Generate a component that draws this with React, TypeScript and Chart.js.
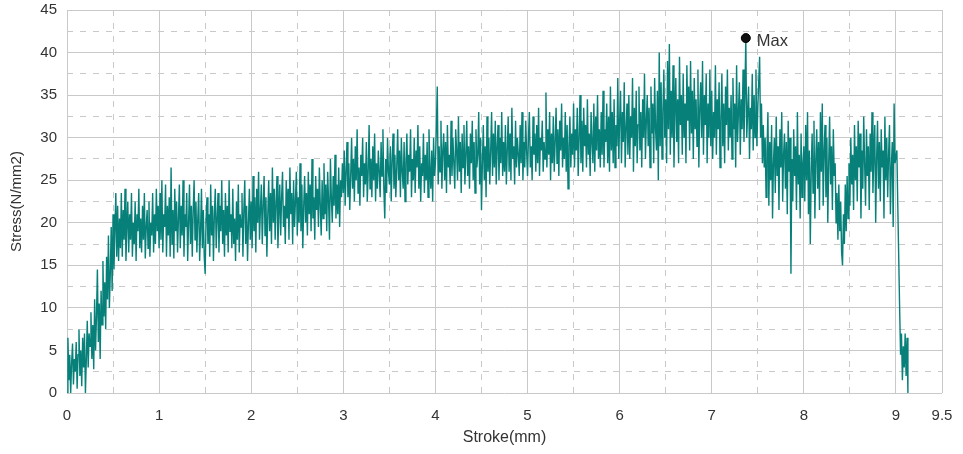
import React, { useEffect, useRef } from "react";
import { Chart, registerables } from "chart.js";

Chart.register(...registerables);

// Sampling interval of the stroke axis (mm per sample)
const SAMPLE_INTERVAL_MM = 0.01;

// Stress values (N/mm2), one per sample, grouped per millimetre of stroke
const stress_0 = [
  0, 6.5, 1.5, 4.5, 0, 3.5, 5.8, 1, 4, 2.5,
  6, 0.5, 4.5, 7.5, 2, 5, 0.8, 6.5, 3, 7,
  0, 4, 8.5, 3, 7, 5.5, 9.5, 4, 8, 2.8,
  11, 5, 9, 14.5, 6, 10.5, 4, 12, 8, 15.5,
  9, 13, 7.5, 16, 11, 18.5, 10, 14, 19.5, 12,
  21, 14.5, 19, 23.5, 16, 22, 15.5, 20.5, 17, 23.5,
  16, 21.5, 18, 24, 15.5, 19.5, 22.5, 16.5, 21, 18,
  23.5, 16, 20, 17.5, 22.5, 15.5, 21, 19, 24, 17,
  20.5, 16.5, 22, 18, 23.5, 15.8, 19.5, 21.5, 17, 22.5,
  16, 20, 18.5, 23.5, 16.5, 21, 17.5, 24, 19, 22,
];
const stress_1 = [
  17, 23.5, 18, 25, 16.5, 21, 19.5, 24.5, 16, 22,
  18.5, 23, 16, 26.5, 17.5, 21.5, 15.8, 24, 19, 22.5,
  16.5, 20.5, 24.5, 17, 22, 18.5, 25, 16, 21, 19.5,
  23.5, 15.5, 20, 24.5, 17.5, 22, 16, 21.5, 25, 18,
  22.5, 16.5, 20.5, 23.5, 15.5, 19, 24, 17, 21.5, 16,
  14, 20.5, 23, 17.5, 21, 16, 24.5, 18.5, 22, 15.5,
  21, 24, 17, 20.5, 23.5, 16.5, 22, 19, 25, 17.5,
  21.5, 16, 23.5, 18.5, 22, 16.5, 25, 19, 21, 17,
  24, 17.5, 20.5, 15.5, 22.5, 18, 24.5, 16.5, 21, 19.5,
  23.5, 16, 21.5, 25, 17.5, 22, 15.5, 20, 24, 18,
];
const stress_2 = [
  22.5, 17, 25.5, 19, 23, 16.5, 24, 20, 26, 18,
  21.5, 24.5, 17.5, 22, 25.5, 18.5, 23, 16, 21, 25,
  19, 23.5, 17.5, 26.5, 20, 24, 18, 22.5, 25.5, 17,
  21, 24.5, 18.5, 23, 26, 19.5, 22, 17.5, 25, 20.5,
  24, 18, 26.5, 21, 23.5, 17.5, 25, 19.5, 22.5, 26,
  18.5, 23, 20, 27, 19, 24.5, 17, 22, 25.5, 20,
  23.5, 18.5, 26, 21, 24.5, 19, 27.5, 20.5, 23, 18,
  25.5, 21.5, 24, 19.5, 26.5, 22, 18.5, 25, 20.5, 27,
  21, 24.5, 19, 26, 22.5, 18, 27.5, 23, 20, 25.5,
  22, 28, 20.5, 24.5, 21, 26.5, 19.5, 25, 23, 27,
];
const stress_3 = [
  23.5, 28.5, 22, 26, 29.5, 23, 27, 21.5, 25.5, 30,
  24, 27.5, 22.5, 29, 25, 31, 23.5, 26.5, 22, 28,
  25.5, 30, 23, 27, 24.5, 29.5, 22.5, 26, 31.5, 24,
  27.5, 23, 29, 25, 30.5, 22.5, 27, 24, 28.5, 26,
  23, 29.5, 25.5, 31, 24, 20.5, 27.5, 23.5, 30, 26,
  24.5, 29, 22.5, 27.5, 30.5, 24, 28, 23, 26.5, 31,
  25, 28.5, 23, 30, 26, 24, 29.5, 22.5, 27, 30.5,
  24.5, 28, 26, 31, 23, 27.5, 25, 30, 23.5, 28.5,
  26.5, 31.5, 24, 29, 22.5, 27, 25.5, 30.5, 23.5, 28,
  25, 29.5, 23, 31, 26.5, 24, 28.5, 22.5, 30, 25.5,
];
const stress_4 = [
  27, 31, 36, 24.5, 29, 26, 32, 24, 28.5, 30.5,
  25, 29.5, 23.5, 31.5, 26.5, 28, 24.5, 32, 25.5, 30,
  27, 24, 31, 28.5, 25, 32.5, 26, 29.5, 23.5, 30.5,
  26.5, 31.5, 24.5, 28, 32, 25.5, 29, 24, 30.5, 27,
  32, 25, 29.5, 23.5, 31, 26.5, 28, 33, 24.5, 30,
  21.5, 27, 31.5, 25, 29, 23, 32.5, 26, 30, 24.5,
  28.5, 33, 25.5, 30.5, 26.5, 32, 24.5, 29, 31.5, 25,
  30, 27, 33, 25.5, 29.5, 26, 31.5, 24.5, 28.5, 32.5,
  26, 30.5, 25, 33.5, 27.5, 29, 24.5, 32, 26.5, 30,
  28, 25.5, 31.5, 27, 33, 25, 29.5, 26.5, 32, 28.5,
];
const stress_5 = [
  25.5, 30, 33, 26.5, 29, 25, 32.5, 28, 30.5, 26,
  31.5, 27, 33.5, 25.5, 30, 28.5, 32, 26, 29.5, 27.5,
  35.3, 26.5, 31, 28, 33, 25, 30.5, 27, 32.5, 26,
  29.5, 33.5, 27, 31, 25.5, 32, 28.5, 34, 26.5, 30,
  27.5, 33, 26, 31.5, 24, 29, 32.5, 26.5, 30.5, 28,
  34, 26.5, 31, 28.5, 33.5, 25.5, 30, 35, 27, 32,
  26, 33.5, 29, 31.5, 26.5, 34.5, 28, 30.5, 25.5, 33,
  29.5, 27, 34, 26, 32.5, 28.5, 35, 27.5, 31, 26.5,
  33, 28, 35.5, 26.5, 31, 29.5, 34, 27, 32.5, 26,
  36, 28.5, 33, 27, 34.5, 26.5, 31.5, 29, 37, 27.5,
];
const stress_6 = [
  32, 35.5, 27, 33, 29.5, 36.5, 26.5, 31, 34, 28,
  35, 27.5, 32.5, 30, 37, 26, 33.5, 29, 35.5, 27,
  31.5, 36, 28.5, 33, 26.5, 34.5, 30, 37.5, 27.5, 32,
  35, 29, 33.5, 26.5, 36, 30.5, 34, 27, 37, 31,
  28.5, 35.5, 25, 40, 29, 36.5, 27.5, 33, 38, 30,
  34.5, 27, 39, 31, 41, 28, 35.5, 30, 38.5, 26.5,
  33, 37, 29.5, 34.5, 27, 39.5, 31.5, 35, 28, 37.5,
  30, 34, 27, 38.5, 32, 36, 28.5, 39, 30.5, 35.5,
  27.5, 37, 31, 34.5, 29, 38, 26.5, 33.5, 36.5, 30,
  39, 28, 35, 31.5, 37.5, 27, 34, 30, 38, 29,
];
const stress_7 = [
  35.5, 27.5, 33, 30, 38.5, 28, 34.5, 31, 36.5, 26.5,
  32, 37.5, 29, 34, 27, 36, 31.5, 38, 28.5, 33.5,
  30, 35, 27.5, 37, 31, 34, 26.5, 38.5, 29.5, 33,
  36.5, 28, 34.5, 31, 38, 29.5, 35, 41.7, 30, 33,
  36, 27.5, 33.5, 31, 37.5, 28.5, 35, 30, 38, 29,
  33.5, 36.5, 39.5, 30, 34, 27, 31.5, 26.5, 30, 23,
  28.5, 33, 22, 29.5, 25, 31.5, 20.5, 27, 30, 23.5,
  32.5, 25.5, 29, 21.5, 31, 26.5, 33, 22.5, 28, 30.5,
  24, 29.5, 21, 32, 26, 30, 14, 27.5, 22.5, 31,
  25.5, 29, 21.5, 33, 24.5, 28, 20.5, 30.5, 23, 27,
];
const stress_8 = [
  29, 22.5, 31.5, 25, 33, 21, 28.5, 17.5, 26, 30.5,
  23.5, 32, 20.5, 27.5, 31, 24, 29.5, 21.5, 33, 26,
  34, 22, 28.5, 31.5, 23, 30, 20, 27, 32.5, 24.5,
  29, 21.5, 31, 25.5, 27, 20, 23.5, 18, 24.5, 19,
  22.5, 16.5, 15, 21, 17.5, 24.5, 19, 25.5, 20.5, 27,
  22, 30, 24.5, 28, 21.5, 31.5, 25, 29, 22.5, 32,
  26.5, 30.5, 20.5, 28.5, 24, 32.5, 27, 22, 31, 25.5,
  29, 21.5, 30.5, 26, 33, 23.5, 28, 31.5, 20, 27.5,
  32, 24, 29.5, 22.5, 31, 26.5, 28.5, 20.5, 32.5, 25,
  30, 23, 28, 31.5, 21, 26.5, 29.5, 19.5, 34, 27,
];
const stress_9 = [27, 28.5, 22, 16, 10, 4.5, 7, 1.5, 5.5, 3, 7, 2, 6.5, 0];

const STRESS = [
  ...stress_0, ...stress_1, ...stress_2, ...stress_3, ...stress_4,
  ...stress_5, ...stress_6, ...stress_7, ...stress_8, ...stress_9,
];
const STROKE = STRESS.map((_, i) => Math.round(i * SAMPLE_INTERVAL_MM * 100) / 100);

const MAX_POINT = { stroke: 7.37, stress: 41.7, label: "Max" };

const X_LABELS = [0, 1, 2, 3, 4, 5, 6, 7, 8, 9, 9.5];
const Y_LABELS = [0, 5, 10, 15, 20, 25, 30, 35, 40, 45];

const X_TITLE = "Stroke(mm)";
const Y_TITLE = "Stress(N/mm2)";

const FONT = '"Liberation Sans", Arial, sans-serif';
const GRID = "#c9c9c9";
const TEXT = "#333333";
const LINE = "#068079";

const maxLabelPlugin = {
  id: "maxLabel",
  afterDatasetsDraw(chart: any) {
    const el = chart.getDatasetMeta(0).data[0];
    if (!el) return;
    const ctx = chart.ctx;
    ctx.save();
    ctx.font = `16.5px ${FONT}`;
    ctx.fillStyle = TEXT;
    ctx.textBaseline = "middle";
    ctx.textAlign = "left";
    ctx.fillText(MAX_POINT.label, el.x + 11, el.y + 3);
    ctx.restore();
  },
};

export default function App() {
  const ref = useRef<HTMLCanvasElement>(null);

  useEffect(() => {
    if (!ref.current) return;
    const chart = new Chart(ref.current, {
      type: "line",
      data: {
        datasets: [
          {
            label: MAX_POINT.label,
            data: [{ x: MAX_POINT.stroke, y: MAX_POINT.stress }],
            showLine: false,
            pointRadius: 4.5,
            pointBackgroundColor: "#111111",
            pointBorderColor: "#000000",
            pointBorderWidth: 1,
            order: 0,
          },
          {
            label: "Stress",
            data: STROKE.map((x, i) => ({ x, y: STRESS[i] })),
            borderColor: LINE,
            borderWidth: 1.4,
            pointRadius: 0,
            tension: 0,
            fill: false,
            order: 1,
          },
        ],
      },
      options: {
        responsive: false,
        animation: false,
        devicePixelRatio: 1,
        events: [],
        layout: { padding: { top: 10, right: 21, left: 0, bottom: 0 } },
        plugins: {
          legend: { display: false },
          tooltip: { enabled: false },
        },
        scales: {
          x: {
            type: "linear",
            min: 0,
            max: 9.5,
            afterFit: (s: any) => {
              s.height = 61;
              s.paddingLeft = 0;
              s.paddingRight = 0;
            },
            grid: { color: GRID, lineWidth: 1, drawTicks: false },
            border: {
              display: false,
              dash: (c: any) =>
                c.tick && c.tick.value % 1 !== 0 && c.tick.value !== 9.5 ? [6, 7] : [],
            },
            ticks: {
              stepSize: 0.5,
              autoSkip: false,
              maxRotation: 0,
              padding: 14,
              color: TEXT,
              font: { family: FONT, size: 15 },
              callback: (v: any) => (X_LABELS.includes(Number(v)) ? String(v) : ""),
            },
            title: {
              display: true,
              text: X_TITLE,
              color: TEXT,
              font: { family: FONT, size: 16 },
              padding: { top: 0, bottom: 7 },
            },
          },
          y: {
            type: "linear",
            min: 0,
            max: 45,
            afterFit: (s: any) => {
              s.width = 67;
              s.paddingTop = 0;
              s.paddingBottom = 0;
            },
            grid: { color: GRID, lineWidth: 1, drawTicks: false },
            border: {
              display: false,
              dash: (c: any) => (c.tick && c.tick.value % 5 !== 0 ? [6, 7] : []),
            },
            ticks: {
              stepSize: 2.5,
              autoSkip: false,
              padding: 10,
              color: TEXT,
              font: { family: FONT, size: 15 },
              callback: (v: any) => (Y_LABELS.includes(Number(v)) ? String(v) : ""),
            },
            title: {
              display: true,
              text: Y_TITLE,
              color: TEXT,
              font: { family: FONT, size: 15 },
              padding: { top: 8, bottom: 0 },
            },
          },
        },
      },
      plugins: [maxLabelPlugin],
    } as any);
    return () => chart.destroy();
  }, []);

  return (
    <div
      style={{
        position: "fixed",
        left: 0,
        top: 0,
        width: 963,
        height: 454,
        background: "#ffffff",
      }}
    >
      <canvas ref={ref} width={963} height={454} />
    </div>
  );
}
